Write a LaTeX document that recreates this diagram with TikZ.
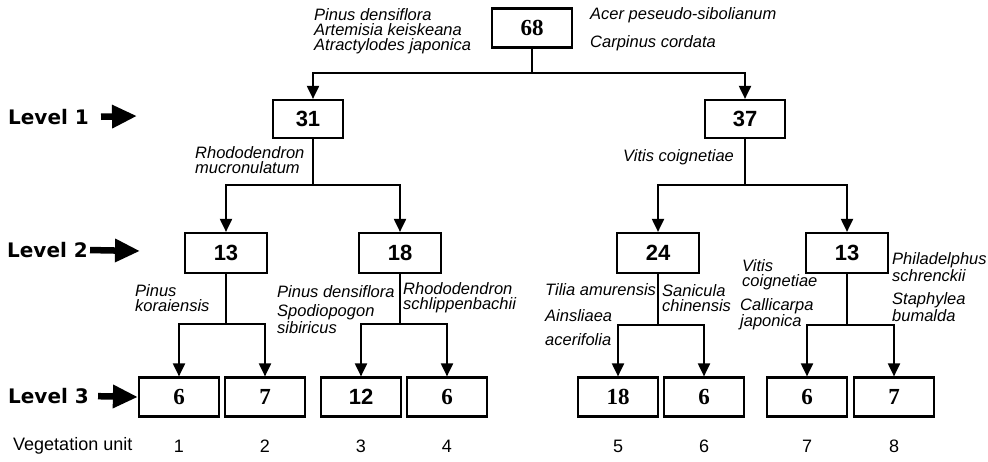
\documentclass[tikz,border=0pt]{standalone}
\usepackage{fontspec}
\setmainfont{Liberation Serif}
\setsansfont{Liberation Sans}
\newfontfamily\levelfont{DejaVu Sans}
\usetikzlibrary{arrows.meta}

\tikzset{
  caja/.style={draw, line width=2.2pt, minimum width=80pt, minimum height=39pt,
    inner sep=0pt, font=\fontsize{23}{23}\selectfont\bfseries},
  cajasf/.style={caja, font=\fontsize{22}{22}\selectfont\sffamily\bfseries},
  rama/.style={line width=2pt},
  flecha/.style={rama, -{Triangle[length=13pt,width=12pt]}},
  especie/.style={anchor=west, align=left, inner sep=0pt,
    font=\fontsize{16.5}{15}\selectfont\sffamily\itshape},
  nivel/.style={anchor=west, inner sep=0pt, font=\fontsize{20}{20}\selectfont\levelfont\bfseries},
  nivelflecha/.style={line width=6.5pt, -{Triangle[length=25pt,width=22pt]}},
  unidad/.style={inner sep=0pt, font=\fontsize{18}{18}\selectfont\sffamily},
}

\begin{document}
\begin{tikzpicture}[x=1pt, y=-1pt]
  \useasboundingbox (0,0) rectangle (988,461);

  % Cajas
  \node[caja] (n68) at (532,28) {68};
  \node[cajasf, minimum width=70pt, minimum height=38pt] (n31) at (308,119) {31};
  \node[cajasf, minimum height=38pt] (n37) at (745,119) {37};
  \node[cajasf, minimum width=82pt, minimum height=40pt] (n13a) at (226,253) {13};
  \node[cajasf, minimum width=82pt, minimum height=40pt] (n18) at (400,253) {18};
  \node[cajasf, minimum width=82pt, minimum height=40pt] (n24) at (658,253) {24};
  \node[cajasf, minimum width=82pt, minimum height=40pt] (n13b) at (847,253) {13};
  \node[caja] (u1) at (179,397) {6};
  \node[caja] (u2) at (265,397) {7};
  \node[cajasf] (u3) at (361,397) {12};
  \node[caja] (u4) at (447,397) {6};
  \node[caja] (u5) at (618,397) {18};
  \node[caja] (u6) at (704,397) {6};
  \node[caja] (u7) at (807,397) {6};
  \node[caja] (u8) at (894,397) {7};

  % Ramas
  \coordinate (jn68) at (532,73);
  \coordinate (jn31) at (313,185);
  \coordinate (jn37) at (745,185);
  \coordinate (jn13a) at (226,324);
  \coordinate (jn18) at (400,324);
  \coordinate (jn24) at (658,325);
  \coordinate (jn13b) at (847,325);
  \draw[rama] (n68) -- (jn68);
  \draw[flecha] (jn68) -| ([xshift=5pt]n31.north);
  \draw[flecha] (jn68) -| (n37);
  \draw[rama] (n31.south -| jn31) -- (jn31);
  \draw[flecha] (jn31) -| (n13a);
  \draw[flecha] (jn31) -| (n18);
  \draw[rama] (n37) -- (jn37);
  \draw[flecha] (jn37) -| (n24);
  \draw[flecha] (jn37) -| (n13b);
  \foreach \p/\a/\b in {n13a/u1/u2, n18/u3/u4, n24/u5/u6, n13b/u7/u8}{
    \draw[rama] (\p) -- (j\p);
    \draw[flecha] (j\p) -| (\a);
    \draw[flecha] (j\p) -| (\b);
  }

  % Especies
  \node[especie] (l68a) at (314,31) {Pinus densiflora\\Artemisia keiskeana\\Atractylodes japonica};
  \node[especie] (l68b) at (590,29) {Acer peseudo-sibolianum\\[12pt]Carpinus cordata};
  \node[especie] (lrm) at (195,160) {Rhododendron\\mucronulatum};
  \node[especie] (lvc) at (623,157) {Vitis coignetiae};
  \node[especie] (lpk) at (135,298) {Pinus\\koraiensis};
  \node[especie] (lpd) at (277,292) {Pinus densiflora};
  \node[especie] (lss) at (277,319) {Spodiopogon\\[1pt]sibiricus};
  \node[especie] (lrs) at (403,298) {Rhododendron\\schlippenbachii};
  \node[especie] (lta) at (545,290) {Tilia amurensis};
  \node[especie] (lsc) at (662,298) {Sanicula\\chinensis};
  \node[especie] (laa) at (545,328) {Ainsliaea\\[9pt]acerifolia};
  \node[especie] (lvc2) at (742,275) {Vitis\\coignetiae};
  \node[especie] (lcj) at (740,314) {Callicarpa\\japonica};
  \node[especie] (lps) at (892,267) {Philadelphus\\schrenckii};
  \node[especie] (lsb) at (892,307) {Staphylea\\bumalda};

  % Niveles
  \node[nivel] (lv1) at (8,117) {Level 1};
  \node[nivel] (lv2) at (7,250) {Level 2};
  \node[nivel] (lv3) at (8,396) {Level 3};
  \coordinate (p1) at (137,116);
  \coordinate (p2) at (140,251);
  \draw[nivelflecha, shorten <=12pt] (lv1.east) -- (p1);
  \draw[nivelflecha, shorten <=2pt] (lv2.east) -- (p2);
  \draw[nivelflecha, shorten <=9pt] (lv3.east) -- (u1.west);

  % Unidades de vegetacion
  \node[unidad, anchor=west] (vu) at (13,446) {Vegetation unit};
  \foreach \i in {1,...,8}{
    \node[unidad] (vu\i) at (u\i |- vu) {\i};
  }
\end{tikzpicture}
\end{document}
